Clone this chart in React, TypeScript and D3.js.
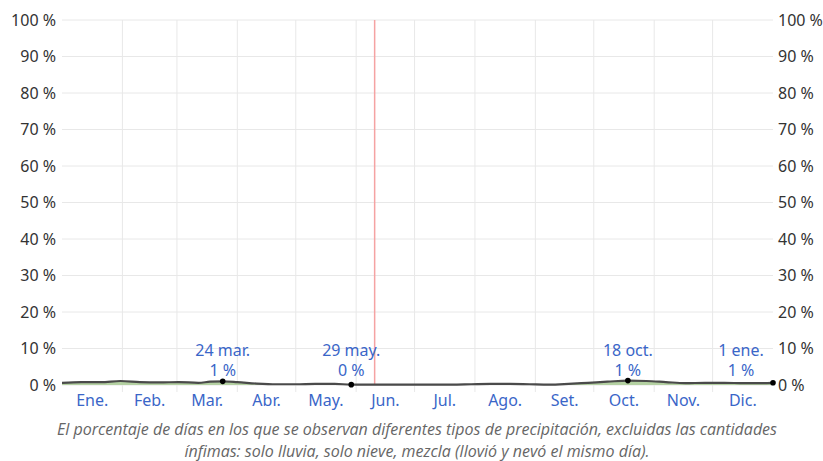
import { useEffect, useRef } from 'react'
import * as d3 from 'd3'

const MONTHS = ['Ene.', 'Feb.', 'Mar.', 'Abr.', 'May.', 'Jun.', 'Jul.', 'Ago.', 'Set.', 'Oct.', 'Nov.', 'Dic.']
const MONTH_DAYS = [31, 28, 31, 30, 31, 30, 31, 31, 30, 31, 30, 31]
const Y_TICKS = [0, 10, 20, 30, 40, 50, 60, 70, 80, 90, 100]

// day of year (0 = 1 ene) and percentage of days with mixed precipitation
const DAYS = [0, 10, 20, 30, 40, 50, 60, 70, 76, 82.5, 90, 100, 110, 120, 130, 140, 148.5, 160, 170, 180, 190, 200, 210, 220, 230, 240, 250, 260, 270, 280, 290.5, 300, 310, 320, 330, 340, 350, 358, 365]
const VALUES = [0.6, 0.8, 0.8, 1.1, 0.8, 0.7, 0.8, 0.6, 0.9, 1.0, 0.8, 0.4, 0.2, 0.2, 0.3, 0.3, 0.1, 0.1, 0.1, 0.1, 0.1, 0.1, 0.2, 0.3, 0.3, 0.2, 0.1, 0.3, 0.6, 0.9, 1.2, 1.1, 0.8, 0.5, 0.6, 0.6, 0.5, 0.5, 0.6]

const MARKERS = [
  { day: 82.5, value: 1.0, date: '24 mar.', label: '1 %', dx: 0 },
  { day: 148.5, value: 0.1, date: '29 may.', label: '0 %', dx: 0 },
  { day: 290.5, value: 1.2, date: '18 oct.', label: '1 %', dx: 0 },
  { day: 365, value: 0.6, date: '1 ene.', label: '1 %', dx: -32 },
]
const TODAY = 160.5

const CAPTION = [
  'El porcentaje de días en los que se observan diferentes tipos de precipitación, excluidas las cantidades',
  'ínfimas: solo lluvia, solo nieve, mezcla (llovió y nevó el mismo día).',
]

export default function App() {
  const ref = useRef<SVGSVGElement>(null)

  useEffect(() => {
    if (!ref.current) return
    const width = 823
    const height = 461
    const margin = { top: 20, right: 50, bottom: 76, left: 62 }
    const plotW = width - margin.left - margin.right
    const plotH = height - margin.top - margin.bottom

    const svg = d3.select(ref.current)
    svg.selectAll('*').remove()

    const x = d3.scaleLinear().domain([0, 365]).range([margin.left, margin.left + plotW])
    const y = d3.scaleLinear().domain([0, 100]).range([margin.top + plotH, margin.top])

    const font = "'Noto Sans', sans-serif"
    const fs = 16

    // horizontal grid
    svg.append('g')
      .selectAll('line')
      .data(Y_TICKS)
      .join('line')
      .attr('x1', x(0))
      .attr('x2', x(365))
      .attr('y1', (d) => y(d))
      .attr('y2', (d) => y(d))
      .attr('stroke', '#e8e8e8')
      .attr('stroke-width', 1)

    // month boundaries
    const bounds = d3.cumsum(MONTH_DAYS).slice(0, 11)
    svg.append('g')
      .selectAll('line')
      .data(Array.from(bounds))
      .join('line')
      .attr('x1', (d) => x(d))
      .attr('x2', (d) => x(d))
      .attr('y1', y(100))
      .attr('y2', y(0) + 7)
      .attr('stroke', '#e8e8e8')
      .attr('stroke-width', 1)

    // today line
    svg.append('line')
      .attr('x1', x(TODAY))
      .attr('x2', x(TODAY))
      .attr('y1', y(100))
      .attr('y2', y(0))
      .attr('stroke', '#f5a3a3')
      .attr('stroke-width', 1.5)

    // y labels both sides
    const yLabels = svg.append('g').attr('font-family', font).attr('font-size', fs).attr('fill', '#333')
    yLabels.selectAll('text.l')
      .data(Y_TICKS)
      .join('text')
      .attr('class', 'l')
      .attr('x', margin.left - 6)
      .attr('y', (d) => y(d))
      .attr('dy', '0.35em')
      .attr('text-anchor', 'end')
      .text((d) => `${d} %`)
    yLabels.selectAll('text.r')
      .data(Y_TICKS)
      .join('text')
      .attr('class', 'r')
      .attr('x', margin.left + plotW + 5)
      .attr('y', (d) => y(d))
      .attr('dy', '0.35em')
      .attr('text-anchor', 'start')
      .text((d) => `${d} %`)

    // month labels
    const starts = [0, ...Array.from(bounds)]
    svg.append('g')
      .attr('font-family', font)
      .attr('font-size', fs)
      .attr('fill', '#3a66c8')
      .selectAll('text')
      .data(MONTHS)
      .join('text')
      .attr('x', (_, i) => x(starts[i] + MONTH_DAYS[i] / 2))
      .attr('y', y(0) + 21)
      .attr('text-anchor', 'middle')
      .text((d) => d)

    // area + line
    const pts = DAYS.map((d, i) => ({ day: d, v: VALUES[i] }))
    const area = d3.area<{ day: number; v: number }>()
      .x((d) => x(d.day))
      .y0(y(0))
      .y1((d) => y(d.v))
      .curve(d3.curveMonotoneX)
    const line = d3.line<{ day: number; v: number }>()
      .x((d) => x(d.day))
      .y((d) => y(d.v))
      .curve(d3.curveMonotoneX)
    svg.append('path').datum(pts).attr('d', area).attr('fill', '#b4d1a2')
    svg.append('path').datum(pts).attr('d', line).attr('fill', 'none').attr('stroke', '#4a4a4a').attr('stroke-width', 2.2)

    // markers
    const mk = svg.append('g')
    mk.selectAll('circle')
      .data(MARKERS)
      .join('circle')
      .attr('cx', (d) => x(d.day))
      .attr('cy', (d) => y(d.value))
      .attr('r', 2.8)
      .attr('fill', '#000')
    const lab = mk.append('g').attr('font-family', font).attr('font-size', fs).attr('fill', '#3a66c8').attr('text-anchor', 'middle')
    lab.selectAll('text.d')
      .data(MARKERS)
      .join('text')
      .attr('class', 'd')
      .attr('x', (d) => x(d.day) + d.dx)
      .attr('y', y(0) - 29)
      .text((d) => d.date)
    lab.selectAll('text.v')
      .data(MARKERS)
      .join('text')
      .attr('class', 'v')
      .attr('x', (d) => x(d.day) + d.dx)
      .attr('y', y(0) - 9)
      .text((d) => d.label)

    // caption
    svg.append('g')
      .attr('font-family', "'Open Sans', sans-serif")
      .attr('font-style', 'italic')
      .attr('font-size', 16)
      .attr('fill', '#666')
      .attr('text-anchor', 'middle')
      .selectAll('text')
      .data(CAPTION)
      .join('text')
      .attr('x', 417)
      .attr('y', (_, i) => 435 + i * 22)
      .text((d) => d)
  }, [])

  return (
    <svg
      ref={ref}
      width={823}
      height={461}
      style={{ position: 'absolute', left: 0, top: 0, background: '#fff' }}
    />
  )
}
